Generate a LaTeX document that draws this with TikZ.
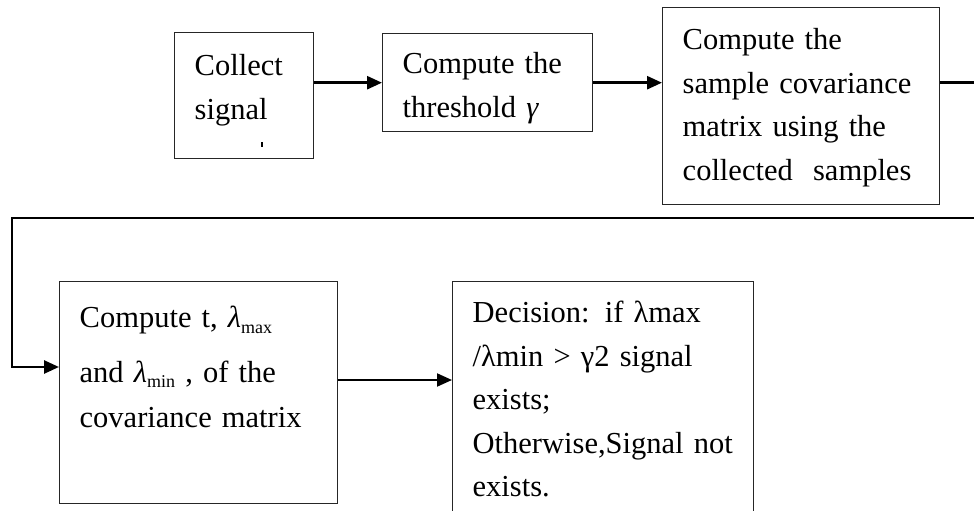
\documentclass[tikz,border=0pt]{standalone}
\usepackage{fontspec}
\setmainfont{Liberation Serif}
\usetikzlibrary{arrows.meta}
\tikzset{
  stepbox/.style = {shape=rectangle, draw=black!85, line width=1.4pt,
                    align=left, anchor=north west,
                    inner xsep=20pt, inner ysep=0pt,
                    font=\fontsize{30.5}{43.5}\selectfont},
  flow/.style    = {line width=2.6pt, -{Triangle[length=15pt,width=13pt]}}
}
\newcommand{\lamsub}[1]{\textit{λ}\raisebox{-0.4ex}{\fontsize{18}{18}\selectfont #1}}

\begin{document}
\begin{tikzpicture}[x=1pt,y=-1pt]
  \useasboundingbox (0,0) rectangle (974,511);
  \clip (0,0) rectangle (974,511);

  % first row
  \node[stepbox, text width=99pt, text height=43pt, text depth=83pt] (b1) at (174,32)
    {Collect\\signal\\[-16pt]\hspace*{66pt}\rule{2.5pt}{5pt}};
  \node[stepbox, text width=170pt, text height=40pt, text depth=58pt] (b2) at (382,33)
    {Compute the\\threshold \textit{γ}};
  \node[stepbox, text width=237pt, text height=42pt, text depth=155pt] (b3) at (662,7)
    {Compute the\\sample covariance\\matrix using the\\collected~ samples};

  % second row
  \node[stepbox, text width=238pt, text height=46pt, text depth=176pt] (b4) at (59,281)
    {Compute t, \lamsub{max}\\[11pt]and \lamsub{min} , of the\\[2pt]covariance matrix};
  \node[stepbox, text width=261pt, text height=41pt, text depth=230pt] (b5) at (452,281)
    {Decision: if λmax\\/λmin \textgreater{} γ2 signal\\exists;\\Otherwise,Signal not\\exists.};

  \coordinate (turnR) at (995,218);
  \coordinate (turnL) at (12,218);
  \coordinate (b4in) at ([yshift=-86pt]b4.north west);
  \coordinate (b4out) at ([yshift=-99pt]b4.north east);

  \draw[flow] (b2.west -| b1.east) -- (b2.west);
  \draw[flow] (b2.east) -- (b2.east -| b3.west);
  \draw[flow] (b2.east -| b3.east) -| (turnR) -- (turnL) |- (b4in);
  \draw[flow, line width=2pt] (b4out) -- (b4out -| b5.west);
\end{tikzpicture}
\end{document}
